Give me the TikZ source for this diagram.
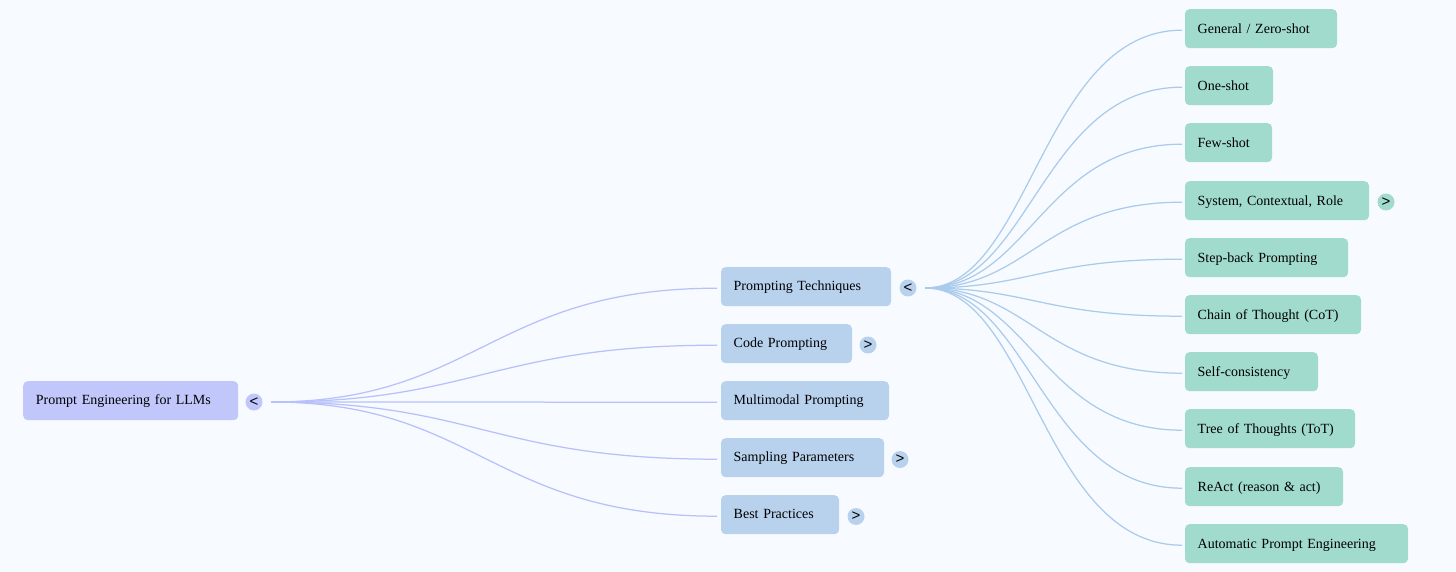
\documentclass[tikz,border=0pt]{standalone}
\usepackage{fontspec}
\setmainfont{Liberation Serif}
\setsansfont{Liberation Sans}
\definecolor{pagebg}{HTML}{F7FBFF}
\definecolor{rootfill}{HTML}{C1C7FB}
\definecolor{midfill}{HTML}{B8D2EE}
\definecolor{leaffill}{HTML}{A0DBCD}
\definecolor{rootline}{HTML}{B8C1FC}
\definecolor{midline}{HTML}{ABCBEC}
\tikzset{
  box/.style={anchor=north west, rounded corners=4.5pt, align=left, minimum height=39pt,
    inner xsep=12.7pt, inner ysep=0pt, text height=10pt, text depth=2pt,
    font=\fontsize{14}{16}\selectfont, text=black},
  rootbox/.style={box, fill=rootfill},
  midbox/.style={box, fill=midfill, outer xsep=4pt},
  leafbox/.style={box, fill=leaffill, outer xsep=3pt, text depth=1pt},
  btn/.style={circle, minimum size=17pt, inner sep=0pt, outer sep=8.5pt,
    font=\sffamily\fontsize{15}{15}\selectfont, text=black},
  rootlink/.style={draw=rootline, line width=1.25pt},
  midlink/.style={draw=midline, line width=1.25pt}
}
\begin{document}
\begin{tikzpicture}[x=1pt, y=-1pt]
    \fill[pagebg] (0, 0) rectangle (1456, 572);
    \useasboundingbox (0, 0) rectangle (1456, 572);

    \node[rootbox, text width=189.6pt] (root) at (23, 381) {Prompt Engineering for LLMs};
    \node[btn, fill=rootfill] (rootbtn) at (254, 402) {<};

    \node[midbox, text width=144.6pt] (tech) at (717, 267) {Prompting Techniques};
    \node[midbox, text width=105.6pt] (code) at (717, 324) {Code Prompting};
    \node[midbox, text width=142.6pt] (multi) at (717, 381) {Multimodal Prompting};
    \node[midbox, text width=137.6pt] (samp) at (717, 438) {Sampling Parameters};
    \node[midbox, text width=92.6pt] (best) at (717, 495) {Best Practices};
    \node[btn, fill=midfill] (techbtn) at (908, 288) {<};
    \node[btn, fill=midfill] (codebtn) at (868, 345) {>};
    \node[btn, fill=midfill] (sampbtn) at (900, 459.5) {>};
    \node[btn, fill=midfill] (bestbtn) at (856, 516.5) {>};

    \node[leafbox, text width=126.6pt] (general) at (1182, 9) {General / Zero-shot};
    \node[leafbox, text width=62.6pt] (oneshot) at (1182, 66) {One-shot};
    \node[leafbox, text width=61.6pt] (fewshot) at (1182, 123) {Few-shot};
    \node[leafbox, text width=158.6pt] (system) at (1182, 181) {System, Contextual, Role};
    \node[leafbox, text width=137.6pt] (stepback) at (1182, 238) {Step-back Prompting};
    \node[leafbox, text width=150.6pt] (chain) at (1182, 295) {Chain of Thought (CoT)};
    \node[leafbox, text width=107.6pt] (selfcons) at (1182, 352) {Self-consistency};
    \node[leafbox, text width=144.6pt] (tree) at (1182, 409) {Tree of Thoughts (ToT)};
    \node[leafbox, text width=132.6pt] (react) at (1182, 467) {ReAct (reason \& act)};
    \node[leafbox, text width=197.6pt] (autoeng) at (1182, 524) {Automatic Prompt Engineering};
    \node[btn, fill=leaffill] (systembtn) at (1386, 202) {>};

    \draw[rootlink] (rootbtn.east) .. controls +(205, 0) and +(-225, 0) .. ([yshift=-1.5pt]tech.west);
    \draw[rootlink] (rootbtn.east) .. controls +(205, 0) and +(-225, 0) .. ([yshift=-1.5pt]code.west);
    \draw[rootlink] (rootbtn.east) -- ([yshift=-1.5pt]multi.west);
    \draw[rootlink] (rootbtn.east) .. controls +(205, 0) and +(-225, 0) .. ([yshift=-1.5pt]samp.west);
    \draw[rootlink] (rootbtn.east) .. controls +(205, 0) and +(-225, 0) .. ([yshift=-1.5pt]best.west);

    \draw[midlink] (techbtn.east) .. controls +(105, 0) and +(-140, 0) .. ([yshift=-1.5pt]general.west);
    \draw[midlink] (techbtn.east) .. controls +(105, 0) and +(-140, 0) .. ([yshift=-1.5pt]oneshot.west);
    \draw[midlink] (techbtn.east) .. controls +(105, 0) and +(-140, 0) .. ([yshift=-1.5pt]fewshot.west);
    \draw[midlink] (techbtn.east) .. controls +(105, 0) and +(-140, 0) .. ([yshift=-1.5pt]system.west);
    \draw[midlink] (techbtn.east) .. controls +(105, 0) and +(-140, 0) .. ([yshift=-1.5pt]stepback.west);
    \draw[midlink] (techbtn.east) .. controls +(105, 0) and +(-140, 0) .. ([yshift=-1.5pt]chain.west);
    \draw[midlink] (techbtn.east) .. controls +(105, 0) and +(-140, 0) .. ([yshift=-1.5pt]selfcons.west);
    \draw[midlink] (techbtn.east) .. controls +(105, 0) and +(-140, 0) .. ([yshift=-1.5pt]tree.west);
    \draw[midlink] (techbtn.east) .. controls +(105, 0) and +(-140, 0) .. ([yshift=-1.5pt]react.west);
    \draw[midlink] (techbtn.east) .. controls +(105, 0) and +(-140, 0) .. ([yshift=-1.5pt]autoeng.west);
\end{tikzpicture}
\end{document}
